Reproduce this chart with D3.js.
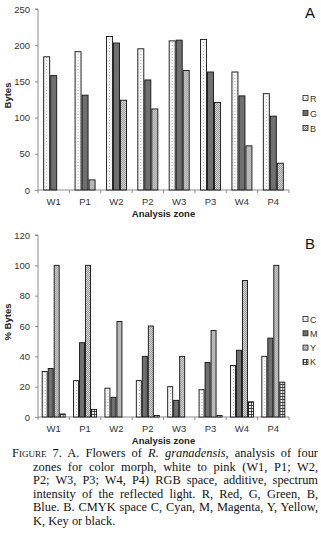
<!DOCTYPE html>
<html>
<head>
<meta charset="utf-8">
<script src="https://cdnjs.cloudflare.com/ajax/libs/d3/7.8.5/d3.min.js"></script>
<style>
  body { margin: 0; background: #fff; }
  #wrap { position: relative; width: 321px; height: 559px; overflow: hidden; }
  svg { position: absolute; left: 0; top: 0; }
  .cap-line {
    position: absolute;
    font-family: "Liberation Serif", "DejaVu Serif", serif;
    font-size: 12.4px; line-height: 13.6px; color: #111;
    white-space: nowrap; text-align: justify; text-align-last: justify;
  }
  .cap-line.last { text-align-last: left; }
  .sc { font-variant: small-caps; }
</style>
</head>
<body>
<div id="wrap"></div>
<script>
// zones along the x axis
const zones = ["W1", "P1", "W2", "P2", "W3", "P3", "W4", "P4"];

// panel A, RGB (bytes)
const rVals = [184, 191, 212, 195, 206, 208, 163, 133];
const gVals = [158, 131, 203, 152, 207, 163, 130, 102];
const bVals = [0, 14, 124, 112, 165, 121, 61, 37];
const rgbKeys = ["R", "G", "B"];
const rgbTicks = [0, 50, 100, 150, 200, 250];

// panel B, CMYK (% bytes)
const cVals = [30, 24, 19, 24, 20, 18, 34, 40];
const mVals = [32, 49, 13, 40, 11, 36, 44, 52];
const yVals = [100, 100, 63, 60, 40, 57, 90, 100];
const kVals = [2, 5, 0, 1, 0, 1, 10, 23];
const cmykKeys = ["C", "M", "Y", "K"];
const cmykTicks = [0, 20, 40, 60, 80, 100, 120];

// caption, broken as in the printed figure
const captionLines = [
  '<span class="sc">Figure</span> 7. A. Flowers of <i>R. granadensis</i>, analysis of four',
  'zones for color morph, white to pink (W1, P1; W2,',
  'P2; W3, P3; W4, P4) RGB space, additive, spectrum',
  'intensity of the reflected light. R, Red, G, Green, B,',
  'Blue. B. CMYK space C, Cyan, M, Magenta, Y, Yellow,',
  'K, Key or black.'
];

const W = 321, H = 559;
const sans = "'Liberation Sans', Arial, sans-serif";
const axisGrey = "#8c8c8c";

const wrap = d3.select("#wrap");
const svg = wrap.append("svg").attr("width", W).attr("height", H);

// fill patterns
const defs = svg.append("defs");
let p = defs.append("pattern").attr("id", "dots").attr("width", 3).attr("height", 3)
  .attr("patternUnits", "userSpaceOnUse");
p.append("rect").attr("width", 3).attr("height", 3).attr("fill", "#fff");
p.append("rect").attr("width", 1).attr("height", 1).attr("fill", "#b0b0b0");
p.append("rect").attr("x", 1.5).attr("y", 1.5).attr("width", 1).attr("height", 1).attr("fill", "#d0d0d0");

p = defs.append("pattern").attr("id", "checks").attr("width", 2).attr("height", 2)
  .attr("patternUnits", "userSpaceOnUse");
p.append("rect").attr("width", 2).attr("height", 2).attr("fill", "#dcdcdc");
p.append("rect").attr("width", 1).attr("height", 1).attr("fill", "#949494");
p.append("rect").attr("x", 1).attr("y", 1).attr("width", 1).attr("height", 1).attr("fill", "#949494");

p = defs.append("pattern").attr("id", "grid").attr("width", 3).attr("height", 3)
  .attr("patternUnits", "userSpaceOnUse");
p.append("rect").attr("width", 3).attr("height", 3).attr("fill", "#fff");
p.append("rect").attr("width", 3).attr("height", 1).attr("fill", "#444");
p.append("rect").attr("width", 1).attr("height", 3).attr("fill", "#444");

const fills = {
  R: "url(#dots)", G: "#707070", B: "url(#checks)",
  C: "url(#dots)", M: "#707070", Y: "url(#checks)", K: "url(#grid)"
};

function panel(opts) {
  const { keys, series, ticks, yMax, top, bottom, innerPad, outerPad, title, letter, letterY, legendY, legendStep } = opts;
  const left = 38, right = 289;

  const x0 = d3.scaleBand().domain(zones).range([left, right])
    .paddingInner(innerPad).paddingOuter(outerPad);
  const x1 = d3.scaleBand().domain(keys).range([0, x0.bandwidth()]);
  const y = d3.scaleLinear().domain([0, yMax]).range([bottom, top]);

  const g = svg.append("g");

  // y axis
  const ya = g.append("g").attr("transform", `translate(${left},0)`)
    .call(d3.axisLeft(y).tickValues(ticks).tickSize(3).tickPadding(5));
  ya.select(".domain").attr("stroke", axisGrey).attr("d", `M-3,${y(yMax)}H0V${y(0)}`);
  ya.selectAll(".tick line").attr("stroke", axisGrey);
  ya.selectAll(".tick text").attr("font-family", sans).attr("font-size", 9.5).attr("fill", "#333");

  // x axis: labels centred on zones, ticks on zone boundaries
  const step = x0.step();
  g.append("line").attr("x1", left).attr("x2", right).attr("y1", y(0)).attr("y2", y(0))
    .attr("stroke", axisGrey);
  g.selectAll(".xt").data(d3.range(zones.length + 1)).join("line")
    .attr("x1", i => left + i * step).attr("x2", i => left + i * step)
    .attr("y1", y(0)).attr("y2", y(0) + 3).attr("stroke", axisGrey);
  g.selectAll(".xl").data(zones).join("text")
    .attr("x", d => x0(d) + x0.bandwidth() / 2).attr("y", y(0) + 15)
    .attr("text-anchor", "middle").attr("font-family", sans).attr("font-size", 9.5)
    .attr("fill", "#333").text(d => d);
  g.append("text").attr("x", (left + right) / 2).attr("y", y(0) + 26.5)
    .attr("text-anchor", "middle").attr("font-family", sans).attr("font-size", 9.5)
    .attr("font-weight", "bold").attr("fill", "#222").text("Analysis zone");

  // y title
  g.append("text").attr("transform", `translate(11,${(y(0) + y(yMax)) / 2 - 4}) rotate(-90)`)
    .attr("text-anchor", "middle").attr("font-family", sans).attr("font-size", 9.5)
    .attr("font-weight", "bold").attr("fill", "#222").text(title);

  // bars
  const grp = g.selectAll(".grp").data(zones).join("g")
    .attr("transform", d => `translate(${x0(d)},0)`);
  grp.selectAll("rect")
    .data((d, i) => keys.map((k, j) => ({ key: k, value: series[j][i] })))
    .join("rect")
    .filter(d => d.value > 0)
    .attr("x", d => x1(d.key) + 0.5)
    .attr("y", d => y(d.value))
    .attr("width", x1.bandwidth() - 1)
    .attr("height", d => y(0) - y(d.value))
    .attr("fill", d => fills[d.key])
    .attr("stroke", "#111").attr("stroke-width", 0.9);

  // legend
  const lg = g.selectAll(".lg").data(keys).join("g")
    .attr("transform", (d, i) => `translate(303,${legendY + i * legendStep})`);
  lg.append("rect").attr("x", 0).attr("y", -2.5).attr("width", 5).attr("height", 5)
    .attr("fill", d => fills[d]).attr("stroke", "#222").attr("stroke-width", 0.8);
  lg.append("text").attr("x", 7).attr("y", 3.5).attr("font-family", sans)
    .attr("font-size", 9).attr("fill", "#333").text(d => d);

  // panel letter
  g.append("text").attr("x", 305).attr("y", letterY).attr("font-family", sans)
    .attr("font-size", 15).attr("fill", "#111").text(letter);
}

panel({
  keys: rgbKeys, series: [rVals, gVals, bVals], ticks: rgbTicks, yMax: 250,
  top: 9, bottom: 190, innerPad: 0.33, outerPad: 0.165,
  title: "Bytes", letter: "A", letterY: 18, legendY: 98, legendStep: 15
});

panel({
  keys: cmykKeys, series: [cVals, mVals, yVals, kVals], ticks: cmykTicks, yMax: 120,
  top: 235, bottom: 417, innerPad: 0.235, outerPad: 0.1175,
  title: "% Bytes", letter: "B", letterY: 249, legendY: 319, legendStep: 14.3
});

// caption: first line hangs out to the left, the rest are indented
wrap.selectAll(".cap-line").data(captionLines).join("div")
  .attr("class", (d, i) => i === captionLines.length - 1 ? "cap-line last" : "cap-line")
  .style("left", (d, i) => (i === 0 ? 12 : 33) + "px")
  .style("width", (d, i) => (i === 0 ? 306 : 285) + "px")
  .style("top", (d, i) => (447 + i * 13.6) + "px")
  .html(d => d);
</script>
</body>
</html>
